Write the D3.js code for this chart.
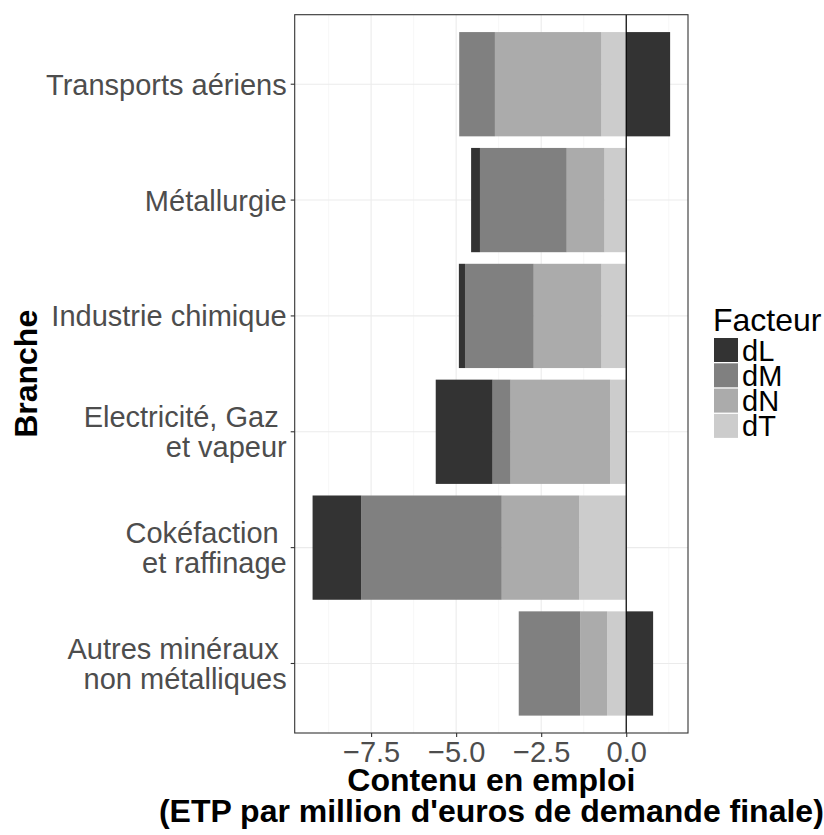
<html>
<head>
<script src="https://d3js.org/d3.v7.min.js"></script>
<style>
  body { margin: 0; background: #fff; }
  text { font-family: "Liberation Sans", Arial, sans-serif; }
</style>
</head>
<body>
<div id="chart"></div>
<script>
// branches (top to bottom), labels with line breaks as in the source figure
const branches = ["Transports aériens", "Métallurgie", "Industrie chimique",
  "Electricité, Gaz \net vapeur", "Cokéfaction \net raffinage", "Autres minéraux \nnon métalliques"];

// contributions by factor (ETP per million euros of final demand)
const dL = [1.29, -0.26, -0.18, -1.67, -1.43, 0.79];
const dM = [-1.05, -2.55, -2.02, -0.53, -4.13, -1.81];
const dN = [-3.13, -1.11, -1.99, -2.93, -2.28, -0.79];
const dT = [-0.73, -0.64, -0.73, -0.47, -1.38, -0.56];

const factors = ["dL", "dM", "dN", "dT"];
const fillColors = ["#333333", "#808080", "#ababab", "#cccccc"];
const xTicks = [-7.5, -5.0, -2.5, 0.0];
const xMinor = [-8.75, -6.25, -3.75, -1.25, 1.25];

const W = 824, H = 835;
const panel = { left: 294.7, right: 688, top: 14.7, bottom: 733 };

const rows = branches.map((b, i) => ({ branche: b, dL: dL[i], dM: dM[i], dN: dN[i], dT: dT[i] }));

// dT sits closest to zero, dL furthest out
const stack = d3.stack()
  .keys(["dT", "dN", "dM", "dL"])
  .offset(d3.stackOffsetDiverging);
const series = stack(rows);

const lo = d3.min(series, s => d3.min(s, d => d[0]));
const hi = d3.max(series, s => d3.max(s, d => d[1]));
const pad = (hi - lo) * 0.05;

const x = d3.scaleLinear()
  .domain([lo - pad, hi + pad])
  .range([panel.left, panel.right]);

const y = d3.scaleBand()
  .domain(branches)
  .range([panel.top, panel.bottom])
  .paddingInner(0.1)
  .paddingOuter(0.15);

const color = d3.scaleOrdinal().domain(factors).range(fillColors);

const svg = d3.select("#chart").append("svg")
  .attr("width", W)
  .attr("height", H);

// grid
const grid = svg.append("g");
grid.selectAll(".minor").data(xMinor.filter(v => x(v) > panel.left && x(v) < panel.right))
  .enter().append("line")
  .attr("x1", d => x(d)).attr("x2", d => x(d))
  .attr("y1", panel.top).attr("y2", panel.bottom)
  .attr("stroke", "#f2f2f2").attr("stroke-width", 0.6);
grid.selectAll(".majorx").data(xTicks)
  .enter().append("line")
  .attr("x1", d => x(d)).attr("x2", d => x(d))
  .attr("y1", panel.top).attr("y2", panel.bottom)
  .attr("stroke", "#ebebeb").attr("stroke-width", 1.1);
grid.selectAll(".majory").data(branches)
  .enter().append("line")
  .attr("x1", panel.left).attr("x2", panel.right)
  .attr("y1", d => y(d) + y.bandwidth() / 2).attr("y2", d => y(d) + y.bandwidth() / 2)
  .attr("stroke", "#ebebeb").attr("stroke-width", 1.1);

// bars
svg.append("g").selectAll("g")
  .data(series)
  .enter().append("g")
  .attr("fill", s => color(s.key))
  .selectAll("rect")
  .data(s => s)
  .enter().append("rect")
  .attr("x", d => x(Math.min(d[0], d[1])))
  .attr("width", d => Math.abs(x(d[1]) - x(d[0])))
  .attr("y", d => y(d.data.branche))
  .attr("height", y.bandwidth());

// zero line
svg.append("line")
  .attr("x1", x(0)).attr("x2", x(0))
  .attr("y1", panel.top).attr("y2", panel.bottom)
  .attr("stroke", "#000").attr("stroke-width", 1.2);

// panel border
svg.append("rect")
  .attr("x", panel.left).attr("y", panel.top)
  .attr("width", panel.right - panel.left).attr("height", panel.bottom - panel.top)
  .attr("fill", "none").attr("stroke", "#333333").attr("stroke-width", 1.1);

// x axis
const xAxis = svg.append("g")
  .attr("transform", "translate(0," + panel.bottom + ")")
  .call(d3.axisBottom(x).tickValues(xTicks).tickFormat(d3.format(".1f")).tickSize(4).tickPadding(6));
xAxis.select(".domain").remove();
xAxis.selectAll(".tick line").attr("stroke", "#333333").attr("stroke-width", 1.1);
xAxis.selectAll(".tick text")
  .attr("fill", "#4d4d4d")
  .attr("font-size", 29)
  .attr("dy", null)
  .attr("y", 29);

// y axis
const yAxis = svg.append("g")
  .attr("transform", "translate(" + panel.left + ",0)")
  .call(d3.axisLeft(y).tickSize(4).tickFormat(""));
yAxis.select(".domain").remove();
yAxis.selectAll(".tick line").attr("stroke", "#333333").attr("stroke-width", 1.1);

yAxis.selectAll(".tick").each(function(d) {
  const lines = d.split("\n");
  const t = d3.select(this).select("text")
    .attr("x", -8)
    .attr("dy", null)
    .attr("y", 0)
    .attr("text-anchor", "end")
    .attr("fill", "#4d4d4d")
    .attr("font-size", 29)
    .style("white-space", "pre");
  t.selectAll("tspan").data(lines).enter().append("tspan")
    .attr("x", -8)
    .attr("y", (l, i) => 10.5 + (i - (lines.length - 1) / 2) * 30)
    .text(l => l);
});

// axis titles
const cx = (panel.left + panel.right) / 2;
const xTitle = ["Contenu en emploi", "(ETP par million d'euros de demande finale)"];
svg.append("g").selectAll("text").data(xTitle).enter().append("text")
  .attr("x", cx)
  .attr("y", (d, i) => 791 + i * 31)
  .attr("text-anchor", "middle")
  .attr("font-size", 32)
  .attr("font-weight", "bold")
  .attr("fill", "#000")
  .text(d => d);

svg.append("text")
  .attr("transform", "translate(37," + ((panel.top + panel.bottom) / 2) + ") rotate(-90)")
  .attr("text-anchor", "middle")
  .attr("font-size", 32)
  .attr("font-weight", "bold")
  .attr("fill", "#000")
  .text("Branche");

// legend
const legend = svg.append("g").attr("transform", "translate(713,0)");
legend.append("text")
  .attr("x", 0).attr("y", 331)
  .attr("font-size", 32)
  .attr("fill", "#000")
  .text("Facteur");
const keys = legend.selectAll(".key").data(factors).enter().append("g")
  .attr("transform", (d, i) => "translate(1," + (338 + i * 25.3) + ")");
keys.append("rect")
  .attr("width", 24).attr("height", 24)
  .attr("fill", d => color(d));
keys.append("text")
  .attr("x", 28).attr("y", 22.5)
  .attr("font-size", 29)
  .attr("fill", "#000")
  .text(d => d);
</script>
</body>
</html>
